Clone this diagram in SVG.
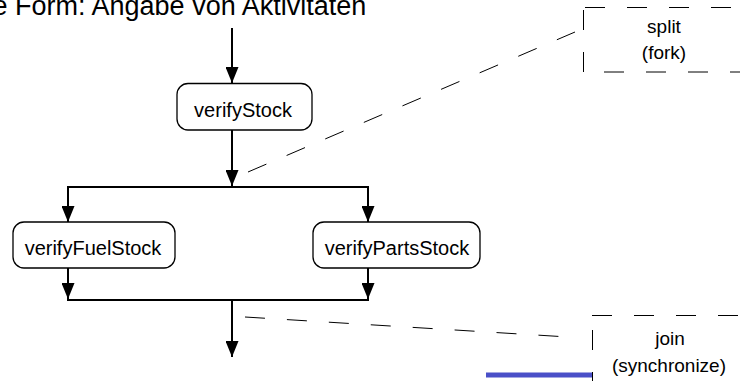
<svg xmlns="http://www.w3.org/2000/svg" width="740" height="381" viewBox="0 0 740 381">
<style>
  .t { font-family: "Liberation Sans", Arial, sans-serif; fill: #000; }
  .title { font-size: 27px; }
  .lbl { font-size: 20px; text-anchor: middle; }
  .note { font-size: 19px; text-anchor: middle; }
  .box { fill: #fff; stroke: #000; stroke-width: 1.3; }
  .flow { fill: none; stroke: #000; stroke-width: 2; }
  .arr { marker-end: url(#ah); }
  .dash { fill: none; stroke: #000; stroke-width: 1; stroke-dasharray: 20 22; }
</style>
<defs>
  <marker id="ah" markerUnits="userSpaceOnUse" markerWidth="16" markerHeight="13" refX="16" refY="6.5" orient="auto">
    <path d="M0,0 L16,6.5 L0,13 z" fill="#000"/>
  </marker>
</defs>
<rect width="740" height="381" fill="#fff"/>
<text class="t title" x="15" y="15" xml:space="preserve"><tspan x="-7.5">e</tspan> Form: Angabe von Aktivitäten</text>

<g id="connectors">
  <line class="flow arr" x1="232" y1="28" x2="232" y2="83"/>
  <line class="flow arr" x1="232" y1="130" x2="232" y2="186"/>
  <line class="flow" x1="67" y1="187" x2="369" y2="187"/>
  <line class="flow arr" x1="68" y1="187" x2="68" y2="222"/>
  <line class="flow arr" x1="368" y1="187" x2="368" y2="222"/>
  <line class="flow arr" x1="68" y1="268" x2="68" y2="299"/>
  <line class="flow arr" x1="368" y1="268" x2="368" y2="299"/>
  <line class="flow" x1="67" y1="300" x2="369" y2="300"/>
  <line class="flow arr" x1="232" y1="300" x2="232" y2="357"/>
  <line class="dash" x1="248" y1="172" x2="575" y2="32"/>
  <line class="dash" x1="245" y1="317" x2="568" y2="337"/>
</g>

<g id="verifyStock">
  <rect class="box" x="177" y="83.5" width="135" height="46.5" rx="11"/>
  <text class="t lbl" x="243" y="117">verifyStock</text>
</g>
<g id="verifyFuelStock">
  <rect class="box" x="13" y="222" width="162" height="46" rx="11"/>
  <text class="t lbl" x="93" y="255">verifyFuelStock</text>
</g>
<g id="verifyPartsStock">
  <rect class="box" x="313" y="222" width="167" height="46" rx="11"/>
  <text class="t lbl" x="397" y="255">verifyPartsStock</text>
</g>

<g id="split">
  <line class="dash" x1="585" y1="7.5" x2="740" y2="7.5"/>
  <line class="dash" x1="583.5" y1="72" x2="583.5" y2="7"/>
  <line class="dash" x1="583" y1="72" x2="740" y2="72" stroke-dashoffset="21"/>
  <text class="t note" x="664" y="33">split</text>
  <text class="t note" x="664" y="59">(fork)</text>
</g>

<g id="join">
  <line class="dash" x1="592" y1="315.5" x2="740" y2="315.5"/>
  <line class="dash" x1="592.5" y1="315" x2="592.5" y2="381" stroke-dashoffset="-15"/>
  <text class="t note" x="670" y="345">join</text>
  <text class="t note" x="669" y="372">(synchronize)</text>
</g>

<line x1="486" y1="375" x2="592" y2="375" stroke="#4a50c8" stroke-width="5"/>
</svg>
